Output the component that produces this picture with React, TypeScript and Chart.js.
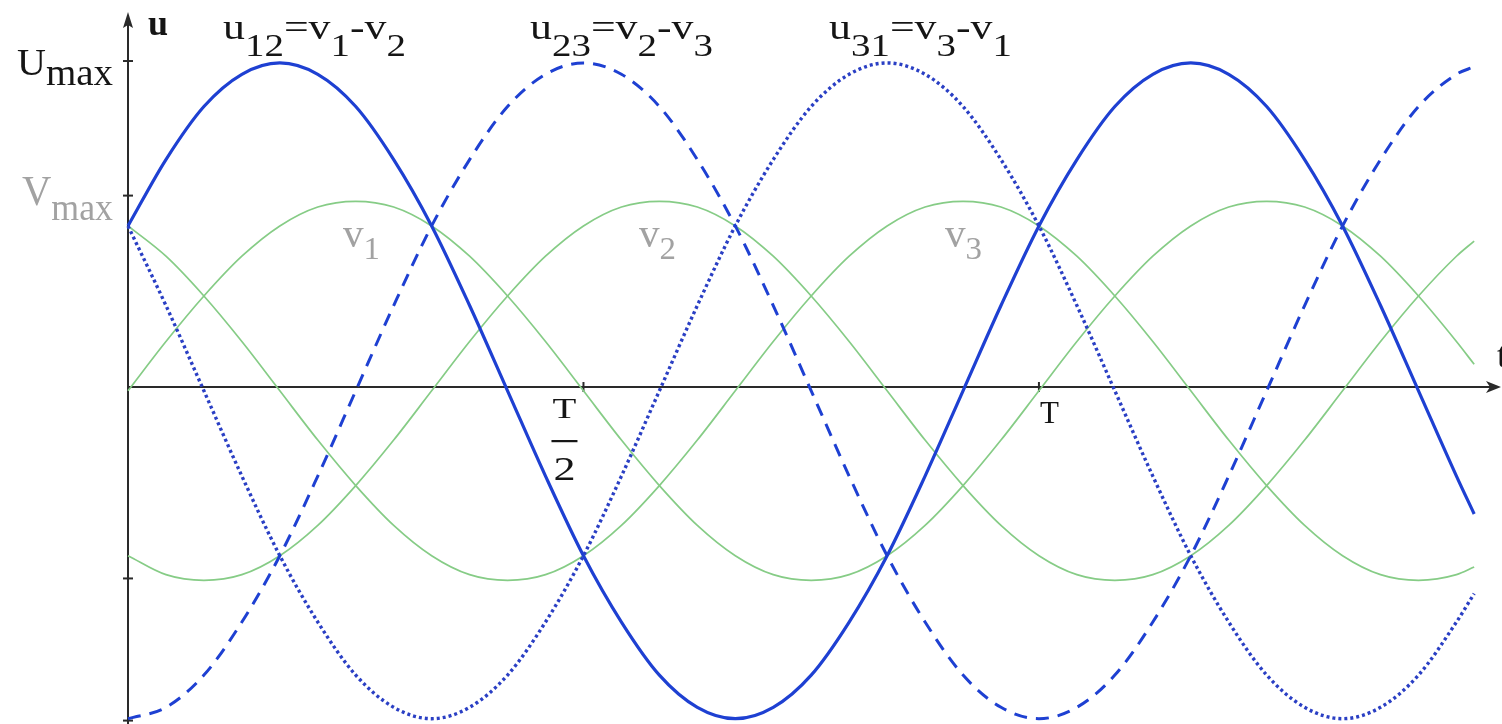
import React, { useEffect, useRef } from "react";
import { Chart, registerables } from "chart.js";

Chart.register(...registerables);

// phase angle (degrees) of each sample; one period T = 360
const PHASE_DEG = [0, 15, 30, 45, 60, 75, 90, 105, 120, 135, 150, 165, 180, 195, 210, 225, 240, 255, 270, 285, 300, 315, 330, 345, 360, 375, 390, 405, 420, 435, 450, 465, 480, 495, 510, 525, 532];

// line-to-line voltages (units of Vmax)
const U12 = [0.85, 1.2, 1.48, 1.65, 1.71, 1.65, 1.48, 1.2, 0.85, 0.43, -0.02, -0.47, -0.89, -1.24, -1.52, -1.69, -1.75, -1.69, -1.52, -1.24, -0.89, -0.47, -0.02, 0.43, 0.85, 1.2, 1.48, 1.65, 1.71, 1.65, 1.48, 1.2, 0.85, 0.43, -0.02, -0.47, -0.67];
const U23 = [-1.75, -1.69, -1.52, -1.24, -0.89, -0.47, -0.02, 0.43, 0.85, 1.2, 1.48, 1.65, 1.71, 1.65, 1.48, 1.2, 0.85, 0.43, -0.02, -0.47, -0.89, -1.24, -1.52, -1.69, -1.75, -1.69, -1.52, -1.24, -0.89, -0.47, -0.02, 0.43, 0.85, 1.2, 1.48, 1.65, 1.69];
const U31 = [0.85, 0.43, -0.02, -0.47, -0.89, -1.24, -1.52, -1.69, -1.75, -1.69, -1.52, -1.24, -0.89, -0.47, -0.02, 0.43, 0.85, 1.2, 1.48, 1.65, 1.71, 1.65, 1.48, 1.2, 0.85, 0.43, -0.02, -0.47, -0.89, -1.24, -1.52, -1.69, -1.75, -1.69, -1.52, -1.24, -1.09];

// phase voltages (units of Vmax)
const V1 = [-0.02, 0.24, 0.48, 0.69, 0.85, 0.95, 0.98, 0.95, 0.85, 0.69, 0.48, 0.24, -0.02, -0.28, -0.52, -0.73, -0.89, -0.99, -1.02, -0.99, -0.89, -0.73, -0.52, -0.28, -0.02, 0.24, 0.48, 0.69, 0.85, 0.95, 0.98, 0.95, 0.85, 0.69, 0.48, 0.24, 0.12];
const V2 = [-0.89, -0.99, -1.02, -0.99, -0.89, -0.73, -0.52, -0.28, -0.02, 0.24, 0.48, 0.69, 0.85, 0.95, 0.98, 0.95, 0.85, 0.69, 0.48, 0.24, -0.02, -0.28, -0.52, -0.73, -0.89, -0.99, -1.02, -0.99, -0.89, -0.73, -0.52, -0.28, -0.02, 0.24, 0.48, 0.69, 0.77];
const V3 = [0.85, 0.69, 0.48, 0.24, -0.02, -0.28, -0.52, -0.73, -0.89, -0.99, -1.02, -0.99, -0.89, -0.73, -0.52, -0.28, -0.02, 0.24, 0.48, 0.69, 0.85, 0.95, 0.98, 0.95, 0.85, 0.69, 0.48, 0.24, -0.02, -0.28, -0.52, -0.73, -0.89, -0.99, -1.02, -0.99, -0.95];

// axis ticks
const X_TICKS = [180, 360];
const X_TICK_LABELS = ["T/2", "T"];
const Y_TICKS = [1.72, 1.01, -1.01, -1.76];
const Y_TICK_LABELS = ["Umax", "Vmax", "", ""];

// text labels: alternating main / subscript pieces
const TOP_LABELS = [
  ["u", "12", "=v", "1", "-v", "2"],
  ["u", "23", "=v", "2", "-v", "3"],
  ["u", "31", "=v", "3", "-v", "1"],
];
const PHASE_LABELS = [
  ["v", "1"],
  ["v", "2"],
  ["v", "3"],
];

const SERIF = '"Liberation Serif", "Times New Roman", Times, serif';

type Part = { t: string; size: number; dy: number; bold?: boolean };

function fontOf(p: Part) {
  return `${p.bold ? "bold " : ""}${p.size}px ${SERIF}`;
}

function drawRich(ctx: CanvasRenderingContext2D, parts: Part[], x: number, y: number, color: string, targetW?: number) {
  ctx.save();
  ctx.fillStyle = color;
  ctx.textBaseline = "alphabetic";
  ctx.textAlign = "left";
  let w = 0;
  const widths: number[] = [];
  for (const p of parts) {
    ctx.font = fontOf(p);
    const m = ctx.measureText(p.t).width;
    widths.push(m);
    w += m;
  }
  const sx = targetW ? targetW / w : 1;
  ctx.translate(x, y);
  ctx.scale(sx, 1);
  let cx = 0;
  parts.forEach((p, i) => {
    ctx.font = fontOf(p);
    ctx.fillText(p.t, cx, p.dy);
    cx += widths[i];
  });
  ctx.restore();
}

const axesPlugin = {
  id: "threePhaseAxes",
  beforeDatasetsDraw(chart: any) {
    const ctx: CanvasRenderingContext2D = chart.ctx;
    const xs = chart.scales.x;
    const ys = chart.scales.y;
    const x0 = xs.getPixelForValue(0);
    const y0 = ys.getPixelForValue(0);
    ctx.save();
    ctx.strokeStyle = "#2a2a2a";
    ctx.fillStyle = "#2a2a2a";
    ctx.lineWidth = 2;
    // y axis
    ctx.beginPath();
    ctx.moveTo(x0, chart.height);
    ctx.lineTo(x0, 20);
    ctx.stroke();
    ctx.beginPath();
    ctx.moveTo(x0, 12);
    ctx.lineTo(x0 - 5, 28);
    ctx.lineTo(x0, 25);
    ctx.lineTo(x0 + 5, 28);
    ctx.closePath();
    ctx.fill();
    // x axis
    const xe = chart.width - 1;
    ctx.beginPath();
    ctx.moveTo(x0, y0);
    ctx.lineTo(xe - 4, y0);
    ctx.stroke();
    ctx.beginPath();
    ctx.moveTo(xe, y0);
    ctx.lineTo(xe - 15, y0 - 6);
    ctx.lineTo(xe - 11, y0);
    ctx.lineTo(xe - 15, y0 + 6);
    ctx.closePath();
    ctx.fill();
    // ticks
    for (const v of Y_TICKS) {
      const py = ys.getPixelForValue(v);
      ctx.beginPath();
      ctx.moveTo(x0 - 5, py);
      ctx.lineTo(x0 + 5, py);
      ctx.stroke();
    }
    for (const v of X_TICKS) {
      const px = xs.getPixelForValue(v);
      ctx.beginPath();
      ctx.moveTo(px, y0 - 5);
      ctx.lineTo(px, y0 + 5);
      ctx.stroke();
    }
    ctx.restore();
  },
  afterDatasetsDraw(chart: any) {
    const ctx: CanvasRenderingContext2D = chart.ctx;
    const xs = chart.scales.x;
    const ys = chart.scales.y;
    const x0 = xs.getPixelForValue(0);
    const y0 = ys.getPixelForValue(0);
    const dark = "#151515";
    const gray = "#a2a2a2";

    // axis names
    drawRich(ctx, [{ t: "u", size: 36, dy: 0, bold: true }], x0 + 20, 35, dark);
    drawRich(ctx, [{ t: "t", size: 36, dy: 0 }], chart.width - 5, y0 - 20, dark);

    // y tick labels
    const yU = ys.getPixelForValue(Y_TICKS[0]);
    const yV = ys.getPixelForValue(Y_TICKS[1]);
    drawRich(ctx, [{ t: Y_TICK_LABELS[0].slice(0, 1), size: 38, dy: 0 }, { t: Y_TICK_LABELS[0].slice(1), size: 37, dy: 10 }], 17, yU + 14, dark, 96);
    drawRich(ctx, [{ t: Y_TICK_LABELS[1].slice(0, 1), size: 42, dy: 0 }, { t: Y_TICK_LABELS[1].slice(1), size: 37, dy: 15 }], 22, yV + 9, gray, 91);

    // x tick labels
    const pHalf = xs.getPixelForValue(X_TICKS[0]);
    const cxh = pHalf - 19;
    const [num, den] = X_TICK_LABELS[0].split("/");
    ctx.save();
    ctx.fillStyle = dark;
    ctx.textAlign = "center";
    ctx.textBaseline = "alphabetic";
    ctx.translate(cxh, 0);
    ctx.scale(1.3, 1);
    ctx.font = `30px ${SERIF}`;
    ctx.fillText(num, 0, y0 + 31);
    ctx.font = `34px ${SERIF}`;
    ctx.fillText(den, 0, y0 + 93);
    ctx.restore();
    ctx.fillStyle = dark;
    ctx.fillRect(cxh - 13, y0 + 53, 26, 2.2);
    const pT = xs.getPixelForValue(X_TICKS[1]);
    drawRich(ctx, [{ t: X_TICK_LABELS[1], size: 31, dy: 0 }], pT + 1, y0 + 36, dark);

    // top formula labels
    const topX = [223, 530, 829];
    TOP_LABELS.forEach((lab, i) => {
      const parts: Part[] = lab.map((t, k) => (k % 2 === 0 ? { t, size: 36, dy: 0 } : { t, size: 32, dy: 17 }));
      drawRich(ctx, parts, topX[i], 39, dark, 183);
    });

    // phase labels
    const phX = [343, 639, 945];
    PHASE_LABELS.forEach((lab, i) => {
      const parts: Part[] = [
        { t: lab[0], size: 40, dy: 0 },
        { t: lab[1], size: 32, dy: 12 },
      ];
      drawRich(ctx, parts, phX[i], 247, gray, 37);
    });
  },
};

export default function App() {
  const ref = useRef<HTMLCanvasElement>(null);
  useEffect(() => {
    if (!ref.current) return;
    let alive = true;
    const pts = (arr: number[]) => PHASE_DEG.map((x, i) => ({ x, y: arr[i] }));
    const blue = "#1e40d2";
    const green = "#86cc86";
    const line = (label: string, arr: number[], color: string, width: number, dash: number[]) =>
      ({
        label,
        data: pts(arr),
        borderColor: color,
        borderWidth: width,
        borderDash: dash,
        pointRadius: 0,
        fill: false,
        cubicInterpolationMode: "monotone",
        clip: false,
      }) as any;
    const chart = new Chart(ref.current, {
      type: "line",
      data: {
        datasets: [
          line("u12", U12, blue, 3.2, []),
          line("u23", U23, blue, 3, [13, 9]),
          line("u31", U31, "#2a3fc4", 3.4, [3, 3]),
          line("v1", V1, green, 1.7, []),
          line("v2", V2, green, 1.7, []),
          line("v3", V3, green, 1.7, []),
        ],
      },
      options: {
        responsive: false,
        animation: false,
        devicePixelRatio: 1,
        layout: { padding: { left: 128, right: 0, top: 0, bottom: 0 } },
        scales: {
          x: { type: "linear", min: 0, max: 543, display: false },
          y: { type: "linear", min: -1.778, max: 2.042, display: false },
        },
        plugins: { legend: { display: false }, tooltip: { enabled: false } },
        elements: { point: { radius: 0 } },
      },
      plugins: [axesPlugin],
    } as any);
    const fonts: any = (document as any).fonts;
    if (fonts && fonts.load) {
      Promise.all([
        fonts.load(`36px "Liberation Serif"`),
        fonts.load(`bold 36px "Liberation Serif"`),
      ])
        .then(() => {
          if (alive) chart.draw();
        })
        .catch(() => {});
    }
    return () => {
      alive = false;
      chart.destroy();
    };
  }, []);
  return (
    <div style={{ position: "fixed", left: 0, top: 0, width: 1502, height: 724, background: "#ffffff" }}>
      <canvas ref={ref} width={1502} height={724} style={{ display: "block", width: 1502, height: 724 }} />
    </div>
  );
}
